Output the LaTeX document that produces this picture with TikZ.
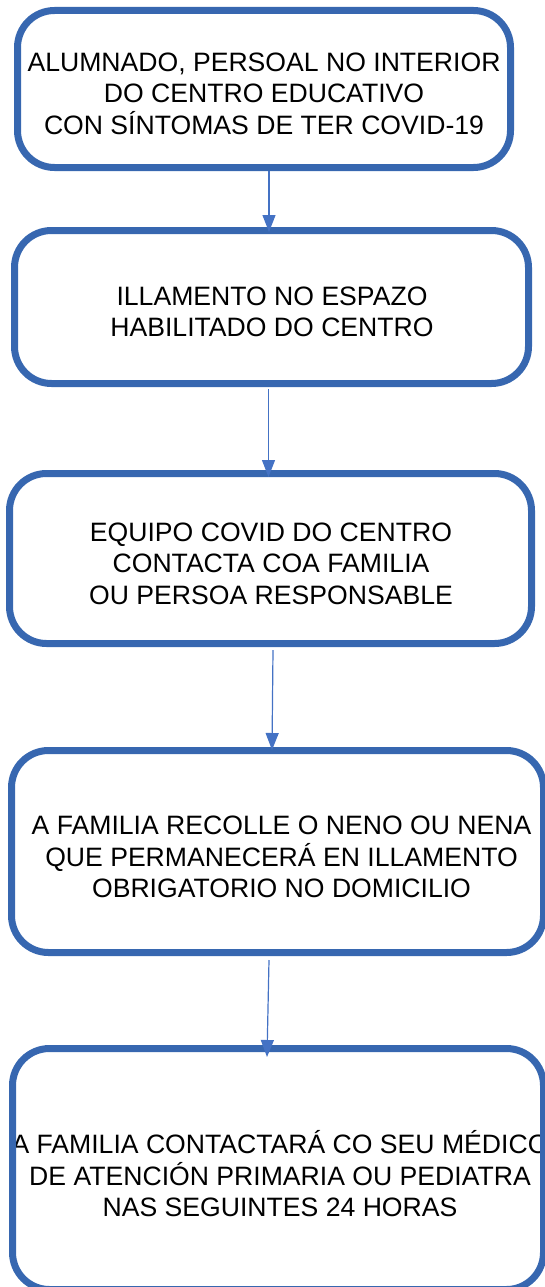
\documentclass[tikz,border=0pt]{standalone}
\usepackage{fontspec}
\setmainfont{Liberation Sans}
\usetikzlibrary{arrows.meta,calc}
\definecolor{boxblue}{RGB}{55,103,176}
\definecolor{arrowblue}{RGB}{68,114,196}
\begin{document}
\begin{tikzpicture}[x=1pt,y=-1pt,
  flowbox/.style={draw=boxblue,line width=7pt,rounded corners=37pt,
    rectangle,inner sep=0pt,outer sep=0pt},
  flowtext/.style={inner sep=0pt,outer sep=0pt,align=center,
    font=\fontsize{26.6pt}{31.5pt}\selectfont},
  flowarrow/.style={draw=arrowblue,line width=1.2pt,
    -{Triangle[width=13pt,length=17pt]}}]
\useasboundingbox (0,0) rectangle (545,1287);
\clip (0,0) rectangle (545,1287);
% texts
\node[flowtext] (t1) at (264,91.2) {\vphantom{Á}ALUMNADO, PERSOAL NO INTERIOR\\DO CENTRO EDUCATIVO\\ CON SÍNTOMAS DE TER COVID-19};
\node[flowtext] (t2) at (272,309.4) {\vphantom{Á}ILLAMENTO NO ESPAZO\\HABILITADO DO CENTRO};
\node[flowtext] (t3) at (271,561.4) {\vphantom{Á}EQUIPO COVID DO CENTRO\\CONTACTA COA FAMILIA\\OU PERSOA RESPONSABLE};
\node[flowtext] (t4) at (281.5,854.7) {\vphantom{Á}A FAMILIA RECOLLE O NENO OU NENA\\QUE PERMANECERÁ EN ILLAMENTO\\OBRIGATORIO NO DOMICILIO};
\node[flowtext] (t5) at (280,1173.7) {\vphantom{Á}A FAMILIA CONTACTARÁ CO SEU MÉDICO\\DE ATENCIÓN PRIMARIA OU PEDIATRA\\NAS SEGUINTES 24 HORAS};
% boxes
\node[flowbox,minimum width=493pt,minimum height=157pt] (b1) at (264,89) {};
\node[flowbox,minimum width=514pt,minimum height=153pt] (b2) at (271.5,307) {};
\node[flowbox,minimum width=522pt,minimum height=170pt] (b3) at (270.5,558.5) {};
\node[flowbox,minimum width=532pt,minimum height=202pt] (b4) at (277.5,851.5) {};
\node[flowbox,minimum width=531pt,minimum height=241pt] (b5) at (278,1169) {};
% connectors
\draw[flowarrow] ($(b1.south)+(5,3.5)$) -- ($(b2.north)+(-2.5,1.5)$);
\draw[flowarrow] ($(b2.south)+(-3,5.5)$) -- ($(b3.north)+(-2,3.5)$);
\draw[flowarrow] ($(b3.south)+(2.5,6.5)$) -- ($(b4.north)+(-5.5,-0.5)$);
\draw[flowarrow] ($(b4.south)+(-8.5,7.5)$) -- ($(b5.north)+(-11,8.5)$);
\end{tikzpicture}
\end{document}
